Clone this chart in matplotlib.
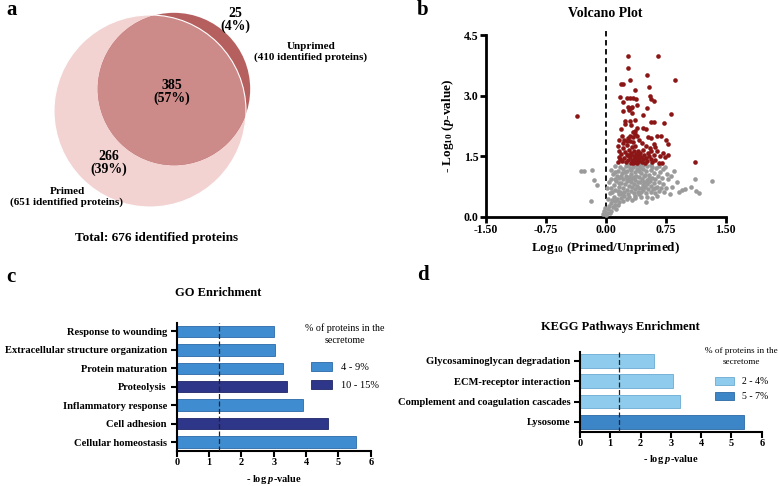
import matplotlib.pyplot as plt
from matplotlib.patches import Circle
from matplotlib.patches import Patch
import numpy as np

plt.rcParams["font.family"] = ["Liberation Serif", "DejaVu Serif"]
plt.rcParams["mathtext.fontset"] = "custom"
plt.rcParams["mathtext.rm"] = "Liberation Serif:bold"
plt.rcParams["mathtext.it"] = "Liberation Serif:italic:bold"
plt.rcParams["mathtext.bf"] = "Liberation Serif:bold"

# panel a: venn counts
primed_total = 651
unprimed_total = 410
overall_total = 676
primed_only = 266
shared = 385
unprimed_only = 25

# panel b: volcano points (log10 ratio, -log10 p)
red_points = [
    (-0.36, 2.49), (0.28, 3.99), (0.65, 3.99), (0.275, 3.68), (0.52, 3.52),
    (0.30, 3.39), (0.86, 3.39), (0.19, 3.29), (0.21, 3.29), (0.54, 3.20),
    (0.36, 3.14), (0.18, 2.96), (0.27, 2.94), (0.30, 2.93), (0.34, 2.95),
    (0.38, 2.92), (0.55, 2.99), (0.57, 2.92), (0.60, 2.87), (0.21, 2.84),
    (0.39, 2.76), (0.28, 2.72), (0.31, 2.68), (0.33, 2.72), (0.29, 2.64),
    (0.52, 2.68), (0.22, 2.61), (0.33, 2.56), (0.46, 2.51), (0.82, 2.54),
    (0.24, 2.36), (0.245, 2.29), (0.30, 2.37), (0.32, 2.28), (0.36, 2.39),
    (0.57, 2.34), (0.60, 2.34), (0.73, 2.33), (0.39, 2.20), (0.37, 2.13),
    (0.34, 2.11), (0.19, 2.17), (0.47, 2.20), (0.50, 2.16), (0.53, 1.97),
    (0.56, 1.96), (0.64, 1.99), (0.69, 1.99), (0.75, 1.91), (0.78, 1.80),
    (0.17, 1.91), (0.20, 2.00), (0.23, 1.91), (0.28, 1.95), (0.30, 2.00),
    (0.34, 1.98), (0.37, 2.04), (0.39, 1.99), (0.78, 1.53), (0.68, 1.51),
    (0.70, 1.33), (1.11, 1.35), (0.15, 1.75), (0.17, 1.62), (0.16, 1.48),
    (0.15, 1.36), (0.18, 1.42), (0.19, 1.55), (0.21, 1.70), (0.22, 1.83),
    (0.23, 1.45), (0.24, 1.60), (0.25, 1.35), (0.26, 1.52), (0.27, 1.78),
    (0.28, 1.40), (0.29, 1.65), (0.30, 1.87), (0.30, 1.48), (0.31, 1.33),
    (0.32, 1.58), (0.33, 1.72), (0.33, 1.40), (0.34, 1.85), (0.35, 1.50),
    (0.35, 1.62), (0.36, 1.36), (0.37, 1.45), (0.37, 1.75), (0.38, 1.55),
    (0.39, 1.33), (0.40, 1.62), (0.40, 1.42), (0.41, 1.52), (0.42, 1.38),
    (0.43, 1.58), (0.44, 1.47), (0.45, 1.35), (0.46, 1.66), (0.47, 1.43),
    (0.48, 1.52), (0.49, 1.33), (0.50, 1.76), (0.50, 1.45), (0.52, 1.38),
    (0.53, 1.58), (0.55, 1.70), (0.56, 1.42), (0.58, 1.35), (0.60, 1.52),
    (0.62, 1.40), (0.64, 1.62), (0.66, 1.33), (0.45, 1.82), (0.42, 1.90),
    (0.26, 1.88), (0.20, 1.38), (0.36, 1.48), (0.39, 1.47), (0.41, 1.40),
    (0.38, 1.38), (0.34, 1.34), (0.31, 1.55), (0.28, 1.52), (0.54, 1.50),
    (0.57, 1.62), (0.60, 1.80), (0.62, 1.73), (0.72, 1.57), (0.74, 1.48),
]
gray_points = [
    (-0.31, 1.13), (-0.27, 1.13), (-0.17, 1.15), (-0.15, 0.90), (-0.11, 0.78),
    (-0.19, 0.38), (-0.03, 0.06), (-0.02, 0.14), (-0.01, 0.22), (0.00, 0.03),
    (0.85, 1.13), (0.89, 0.87), (0.83, 0.74), (0.95, 0.66), (0.99, 0.69),
    (1.06, 0.74), (1.12, 0.93), (1.13, 0.64), (1.16, 0.59), (1.33, 0.88),
    (0.80, 0.55), (0.91, 0.62), (0.78, 0.93), (0.82, 1.00), (0.74, 1.24),
    (0.77, 1.05), (0.02, 0.10), (0.03, 0.18), (0.05, 0.08), (0.04, 0.27),
    (0.07, 0.15), (0.06, 0.33), (0.09, 0.24), (0.08, 0.42), (0.11, 0.30),
    (0.13, 0.19), (0.12, 0.38), (0.15, 0.28), (0.10, 0.50), (0.14, 0.45),
    (0.17, 0.36), (0.19, 0.47), (0.16, 0.56), (0.21, 0.40), (0.23, 0.52),
    (0.26, 0.45), (0.29, 0.48), (0.33, 0.41), (0.37, 0.47), (0.44, 0.48),
    (0.50, 0.37), (0.52, 0.50), (0.58, 0.46), (0.64, 0.52), (0.41, 0.55),
    (0.03, 0.45), (0.05, 0.58), (0.02, 0.70), (0.04, 0.85), (0.06, 0.72),
    (0.08, 0.62), (0.10, 0.78), (0.07, 0.93), (0.09, 1.05), (0.06, 1.16),
    (0.11, 1.25), (0.12, 0.67), (0.13, 0.88), (0.14, 1.00), (0.15, 1.14),
    (0.16, 0.74), (0.17, 0.95), (0.18, 1.22), (0.18, 0.62), (0.19, 0.84),
    (0.20, 1.07), (0.21, 0.70), (0.22, 0.93), (0.22, 1.18), (0.23, 0.60),
    (0.24, 0.80), (0.25, 1.01), (0.25, 1.26), (0.26, 0.67), (0.27, 0.88),
    (0.27, 1.12), (0.28, 0.57), (0.29, 0.76), (0.29, 0.98), (0.30, 1.20),
    (0.31, 0.64), (0.31, 0.86), (0.32, 1.05), (0.33, 0.73), (0.33, 0.95),
    (0.34, 1.24), (0.35, 0.59), (0.35, 0.82), (0.36, 1.10), (0.37, 0.68),
    (0.37, 0.91), (0.38, 1.02), (0.39, 0.77), (0.39, 1.17), (0.40, 0.62),
    (0.40, 0.87), (0.41, 0.99), (0.42, 1.27), (0.42, 0.72), (0.43, 0.85),
    (0.44, 1.08), (0.44, 0.60), (0.45, 0.94), (0.46, 0.78), (0.46, 1.19),
    (0.47, 0.66), (0.48, 1.00), (0.48, 0.87), (0.49, 0.74), (0.50, 1.12),
    (0.50, 0.58), (0.51, 0.92), (0.52, 0.80), (0.52, 1.25), (0.53, 0.68),
    (0.54, 1.03), (0.55, 0.88), (0.56, 0.62), (0.56, 1.15), (0.57, 0.76),
    (0.58, 0.97), (0.59, 0.69), (0.60, 1.08), (0.60, 0.84), (0.61, 0.58),
    (0.62, 0.93), (0.63, 1.20), (0.64, 0.73), (0.65, 1.01), (0.66, 0.64),
    (0.67, 0.86), (0.68, 1.10), (0.69, 0.70), (0.70, 0.95), (0.71, 0.80),
    (0.72, 1.17), (0.73, 0.61), (0.75, 0.72), (0.28, 1.28), (0.36, 0.52),
    (0.20, 0.55), (0.15, 0.64), (0.11, 0.93), (0.12, 1.10), (0.38, 1.28),
    (0.47, 1.27), (0.57, 1.28), (0.66, 1.26), (0.24, 1.10), (0.32, 1.16),
    (0.41, 1.13), (0.54, 0.96), (0.58, 1.22), (0.62, 0.70), (0.30, 0.92),
    (0.35, 0.99), (0.43, 1.20), (0.49, 1.04), (0.26, 0.96), (0.19, 1.00),
    (0.17, 0.83), (0.45, 0.70), (0.53, 0.87),
]

# panel c: GO enrichment (bottom to top)
go_terms = [
    "Cellular homeostasis",
    "Cell adhesion",
    "Inflammatory response",
    "Proteolysis",
    "Protein maturation",
    "Extracellular structure organization",
    "Response to wounding",
]
go_values = [5.55, 4.69, 3.92, 3.40, 3.30, 3.03, 3.00]
go_groups = ["4 - 9%", "10 - 15%", "4 - 9%", "10 - 15%", "4 - 9%", "4 - 9%", "4 - 9%"]
go_group_names = ["4 - 9%", "10 - 15%"]

# panel d: KEGG enrichment (bottom to top)
kegg_terms = [
    "Lysosome",
    "Complement and coagulation cascades",
    "ECM-receptor interaction",
    "Glycosaminoglycan degradation",
]
kegg_values = [5.40, 3.30, 3.06, 2.45]
kegg_groups = ["5 - 7%", "2 - 4%", "2 - 4%", "2 - 4%"]
kegg_group_names = ["2 - 4%", "5 - 7%"]

significance = -np.log10(0.05)

W, H = 778, 486


def _fig_rect(left, top, right, bottom):
    return [left / W, 1 - bottom / H, (right - left) / W, (bottom - top) / H]


def plot_venn(figure):
    axis = figure.add_axes(_fig_rect(0, 0, 390, 250))
    axis.set_xlim(0, 390)
    axis.set_ylim(250, 0)
    axis.axis("off")

    k = 96 / np.sqrt(primed_total)
    r_primed = k * np.sqrt(primed_total)
    r_unprimed = k * np.sqrt(unprimed_total)

    primed = Circle((150, 111), r_primed, facecolor="#f2d3d2", edgecolor="none")
    axis.add_patch(primed)
    unprimed = Circle((174, 89), r_unprimed, facecolor="#b5605f", edgecolor="none")
    axis.add_patch(unprimed)
    overlap = Circle((174, 89), r_unprimed, facecolor="#cc8a89", edgecolor="none")
    axis.add_patch(overlap)
    overlap.set_clip_path(primed)
    axis.add_patch(
        Circle((150, 111), r_primed, facecolor="none", edgecolor="white", linewidth=0.8)
    )

    bold = {"fontweight": "bold", "ha": "center", "va": "center"}
    axis.text(235, 20, f"{unprimed_only}\n({unprimed_only / overall_total:.0%})",
              fontsize=10, linespacing=1.0, **bold)
    axis.text(172, 92, f"{shared}\n({shared / overall_total:.0%})",
              fontsize=10, linespacing=1.0, **bold)
    axis.text(109, 163, f"{primed_only}\n({primed_only / overall_total:.0%})",
              fontsize=10, linespacing=1.0, **bold)
    axis.text(311, 52, f"Unprimed\n({unprimed_total} identified proteins)",
              fontsize=8, linespacing=1.15, **bold)
    axis.text(67, 197, f"Primed\n({primed_total} identified proteins)",
              fontsize=8, linespacing=1.15, **bold)
    axis.text(157, 238, f"Total: {overall_total} identified proteins",
              fontsize=9.5, **bold)


def _style_axis(axis, width):
    for side in ("top", "right"):
        axis.spines[side].set_visible(False)
    for side in ("left", "bottom"):
        axis.spines[side].set_linewidth(width)
    axis.tick_params(direction="out", length=4, width=width, color="black")
    for label in axis.get_xticklabels() + axis.get_yticklabels():
        label.set_fontweight("bold")


def plot_volcano(figure):
    axis = figure.add_axes(_fig_rect(485.7, 35, 725.7, 216.7))
    gx, gy = zip(*gray_points)
    rx, ry = zip(*red_points)
    axis.scatter(gx, gy, s=11, color="#9a9a9a", linewidths=0, clip_on=False, zorder=3)
    axis.scatter(rx, ry, s=11, color="#8c1616", linewidths=0, clip_on=False, zorder=3)
    axis.plot([0, 0], [0, 4.62], color="black", linestyle=(0, (3, 2)),
              linewidth=1.3, clip_on=False, zorder=2)

    axis.set_xlim(-1.5, 1.5)
    axis.set_ylim(0, 4.5)
    axis.set_xticks([-1.5, -0.75, 0, 0.75, 1.5])
    axis.set_xticklabels([f"{v:.2f}" for v in [-1.5, -0.75, 0, 0.75, 1.5]], fontsize=8.5)
    axis.set_yticks([0, 1.5, 3, 4.5])
    axis.set_yticklabels([f"{v:.1f}" for v in [0, 1.5, 3, 4.5]], fontsize=8.5)
    _style_axis(axis, 2.0)
    axis.tick_params(pad=1)

    axis.set_title("Volcano Plot", fontsize=10, fontweight="bold", pad=13)
    axis.set_xlabel(r"Log$_{10}$ (Primed/Unprimed)", fontsize=9.5,
                    fontweight="bold", labelpad=3)
    axis.set_ylabel(r"- Log$_{10}$ ($p$-value)", fontsize=9.5,
                    fontweight="bold", labelpad=6)


def plot_enrichment(figure, rect, terms, values, groups, group_names, palette,
                    title, title_y, bar_height, ymax, legend_style):
    axis = figure.add_axes(_fig_rect(*rect))
    ys = np.arange(len(terms))
    colors = [palette[g][0] for g in groups]
    edges = [palette[g][1] for g in groups]
    axis.barh(ys, values, height=bar_height, color=colors, edgecolor=edges,
              linewidth=0.6, zorder=2)
    axis.axvline(significance, color="#222222", linestyle=(0, (4, 2)),
                 linewidth=0.9, zorder=3)

    axis.set_xlim(0, 6)
    axis.set_ylim(-0.48, ymax)
    axis.set_xticks(range(7))
    axis.set_xticklabels([str(v) for v in range(7)], fontsize=7.5)
    axis.set_yticks(ys)
    axis.set_yticklabels(terms, fontsize=7.6)
    _style_axis(axis, 1.5)
    axis.tick_params(axis="x", pad=1)
    axis.tick_params(axis="y", pad=3)

    axis.set_xlabel(r"- log $p$-value", fontsize=7.5, fontweight="bold", labelpad=4)
    figure.text(title[1] / W, 1 - title_y / H, title[0], fontsize=9,
                fontweight="bold", ha="center", va="center")

    handles = [
        Patch(facecolor=palette[g][0], edgecolor=palette[g][1], linewidth=0.6)
        for g in group_names
    ]
    x0, y0 = legend_style["xy"]
    legend = axis.legend(
        handles,
        group_names,
        title="% of proteins in the\nsecretome",
        loc="upper left",
        bbox_to_anchor=(x0 / W, 1 - y0 / H),
        bbox_transform=figure.transFigure,
        frameon=False,
        fontsize=legend_style["size"],
        title_fontsize=legend_style["title_size"],
        handlelength=2.0,
        handleheight=1.0,
        handletextpad=0.8,
        labelspacing=legend_style["spacing"],
        borderpad=0,
    )
    legend._legend_box.sep = legend_style["sep"]
    legend.get_title().set_multialignment("center")
    legend.get_title().set_linespacing(legend_style["title_linespacing"])


figure = plt.figure(figsize=(W / 100, H / 100), dpi=100)

plot_venn(figure)
plot_volcano(figure)

plot_enrichment(
    figure,
    (176.7, 323, 370.7, 451),
    go_terms, go_values, go_groups, go_group_names,
    {"4 - 9%": ("#3f8dd0", "#2c6aa8"), "10 - 15%": ("#2e368a", "#1f2466")},
    ("GO Enrichment", 218),
    293,
    0.62,
    6.45,
    {"xy": (300, 318), "size": 7.5, "title_size": 7.2, "spacing": 0.75,
     "sep": 12, "title_linespacing": 1.45},
)
plot_enrichment(
    figure,
    (580, 351.7, 761.7, 431.7),
    kegg_terms, kegg_values, kegg_groups, kegg_group_names,
    {"2 - 4%": ("#8ecbec", "#6aaad2"), "5 - 7%": ("#3c86c8", "#2c68a4")},
    ("KEGG Pathways Enrichment", 620),
    327,
    0.66,
    3.45,
    {"xy": (700, 342), "size": 7.0, "title_size": 6.6, "spacing": 0.55,
     "sep": 8, "title_linespacing": 1.45},
)

for label, x, y in [("a", 12, 10), ("b", 423, 10), ("c", 11, 277), ("d", 423, 275)]:
    figure.text(x / W, 1 - y / H, label, fontsize=15, fontweight="bold",
                ha="center", va="center")

figure.savefig("out.png", dpi=100)
